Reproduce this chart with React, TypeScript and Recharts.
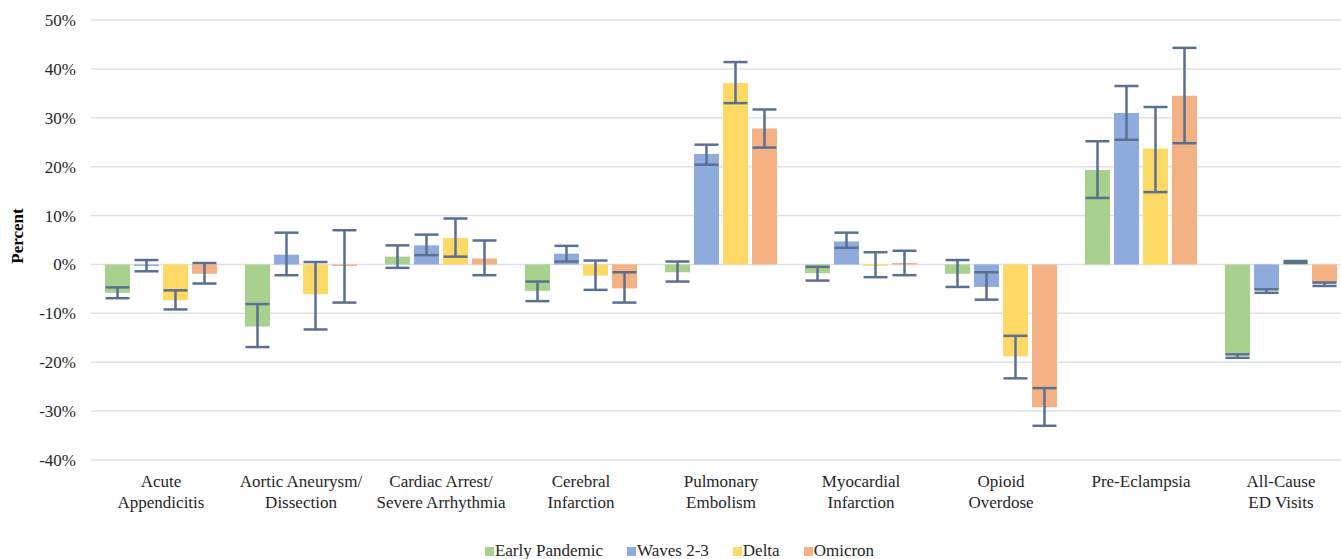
import React from "react";
import { Bar, BarChart, CartesianGrid, ErrorBar, Legend, XAxis, YAxis } from "recharts";

const categories = [
  "Acute\nAppendicitis",
  "Aortic Aneurysm/\nDissection",
  "Cardiac Arrest/\nSevere Arrhythmia",
  "Cerebral\nInfarction",
  "Pulmonary\nEmbolism",
  "Myocardial\nInfarction",
  "Opioid\nOverdose",
  "Pre-Eclampsia",
  "All-Cause\nED Visits",
];

// percent change, with lower / upper confidence limits
const earlyPandemic = [-5.8, -12.7, 1.6, -5.4, -1.6, -1.8, -1.9, 19.3, -18.5];
const earlyLow = [-6.9, -16.9, -0.7, -7.5, -3.5, -3.3, -4.6, 13.6, -19.1];
const earlyHigh = [-4.7, -8.1, 3.9, -3.5, 0.6, -0.5, 0.9, 25.2, -18.4];

const waves23 = [-0.3, 2.0, 3.9, 2.2, 22.6, 4.7, -4.6, 31.0, -5.2];
const wavesLow = [-1.4, -2.2, 1.9, 0.6, 20.4, 3.4, -7.2, 25.5, -5.8];
const wavesHigh = [0.9, 6.5, 6.1, 3.8, 24.5, 6.5, -1.6, 36.5, -5.1];

const delta = [-7.3, -6.1, 5.4, -2.3, 37.1, -0.3, -18.8, 23.7, 0.3];
const deltaLow = [-9.2, -13.3, 1.6, -5.2, 33.0, -2.6, -23.3, 14.8, 0.3];
const deltaHigh = [-5.3, 0.5, 9.4, 0.8, 41.4, 2.5, -14.6, 32.2, 0.7];

const omicron = [-1.9, -0.3, 1.2, -4.9, 27.8, 0.3, -29.2, 34.5, -3.9];
const omicronLow = [-3.9, -7.8, -2.2, -7.8, 23.9, -2.2, -33.0, 24.8, -4.4];
const omicronHigh = [0.3, 7.0, 4.9, -1.6, 31.7, 2.8, -25.3, 44.3, -3.7];

const yTicks = [-40, -30, -20, -10, 0, 10, 20, 30, 40, 50];

const SERIES = [
  { key: "early", name: "Early Pandemic", color: "#a9d18e" },
  { key: "waves", name: "Waves 2-3", color: "#8faadc" },
  { key: "delta", name: "Delta", color: "#ffd966" },
  { key: "omicron", name: "Omicron", color: "#f4b183" },
];

const FONT = '"Liberation Serif", "Times New Roman", "DejaVu Serif", serif';
const ERR = "#5b6f91";

const err = (v: number, lo: number, hi: number) => [Math.max(v - lo, 0), Math.max(hi - v, 0)];

const data = categories.map((name, i) => ({
  name,
  early: earlyPandemic[i],
  earlyErr: err(earlyPandemic[i], earlyLow[i], earlyHigh[i]),
  waves: waves23[i],
  wavesErr: err(waves23[i], wavesLow[i], wavesHigh[i]),
  delta: delta[i],
  deltaErr: err(delta[i], deltaLow[i], deltaHigh[i]),
  omicron: omicron[i],
  omicronErr: err(omicron[i], omicronLow[i], omicronHigh[i]),
}));

function CategoryTick({ x, y, payload }: any) {
  const lines = String(payload.value).split("\n");
  return (
    <text x={x} y={y} textAnchor="middle" style={{ fontFamily: FONT }} fontSize={17} fill="#262626">
      {lines.map((l, i) => (
        <tspan key={i} x={x} dy={i === 0 ? 27 : 21}>
          {l}
        </tspan>
      ))}
    </text>
  );
}

function LegendContent() {
  return (
    <div
      style={{
        display: "flex",
        justifyContent: "center",
        alignItems: "center",
        height: 20,
        paddingLeft: 8,
        fontFamily: FONT,
        fontSize: 17,
        color: "#262626",
        whiteSpace: "nowrap",
      }}
    >
      {SERIES.map((s) => (
        <div key={s.key} style={{ display: "flex", alignItems: "center", margin: "0 12px", flexShrink: 0 }}>
          <div style={{ width: 9, height: 9, background: s.color, marginRight: 1, flexShrink: 0 }} />
          <span>{s.name}</span>
        </div>
      ))}
    </div>
  );
}

export default function App() {
  return (
    <div
      style={{
        position: "absolute",
        left: 0,
        top: 0,
        width: 1341,
        height: 559,
        overflow: "hidden",
        background: "#fff",
        fontFamily: FONT,
      }}
    >
      <BarChart
        width={1351}
        height={559}
        data={data}
        margin={{ top: 20, right: 0, bottom: 19, left: 0 }}
        barSize={25}
        barGap={4}
        style={{ fontFamily: FONT }}
      >
        <CartesianGrid vertical={false} stroke="#dde1e6" strokeWidth={1.5} />
        <XAxis
          dataKey="name"
          axisLine={false}
          tickLine={false}
          tickSize={0}
          tickMargin={0}
          height={60}
          interval={0}
          tick={<CategoryTick />}
        />
        <YAxis
          width={91}
          domain={[-40, 50]}
          ticks={yTicks}
          interval={0}
          axisLine={false}
          tickLine={false}
          tickSize={0}
          tickMargin={15}
          tickFormatter={(v) => `${v}%`}
          tick={{ fontSize: 17, fill: "#262626", style: { fontFamily: FONT } }}
          label={() => (
            <text
              x={17}
              y={236}
              transform="rotate(-90 17 236)"
              textAnchor="middle"
              dominantBaseline="central"
              style={{ fontFamily: FONT }}
              fontSize={17}
              fontWeight="bold"
              fill="#000"
            >
              Percent
            </text>
          )}
        />
        <Legend verticalAlign="bottom" content={<LegendContent />} wrapperStyle={{ bottom: -2 }} />
        {SERIES.map((s) => (
          <Bar key={s.key} dataKey={s.key} name={s.name} fill={s.color} isAnimationActive={false}>
            <ErrorBar
              dataKey={`${s.key}Err`}
              direction="y"
              width={12}
              stroke={ERR}
              strokeWidth={2.5}
              isAnimationActive={false}
            />
          </Bar>
        ))}
      </BarChart>
    </div>
  );
}
